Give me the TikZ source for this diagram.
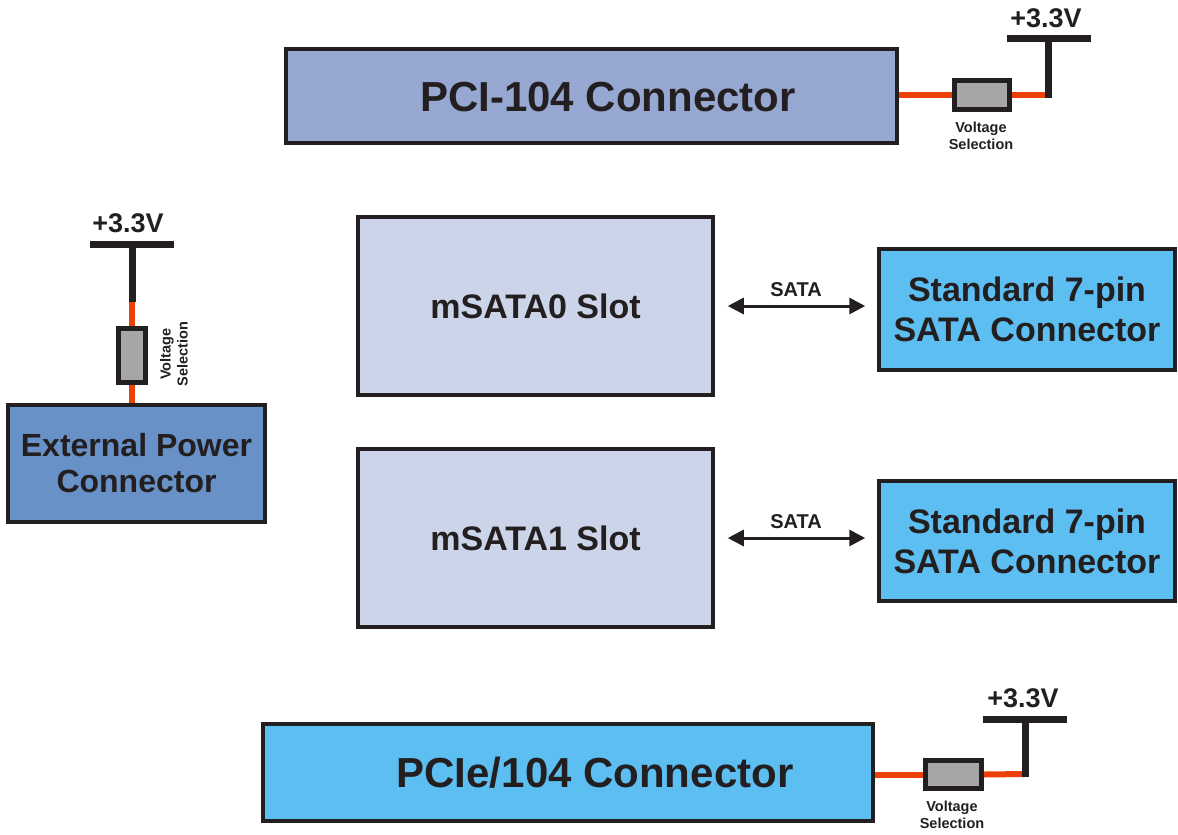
\documentclass[tikz,border=0pt]{standalone}
\usepackage{fontspec}
\setmainfont{Liberation Sans}
\usetikzlibrary{arrows.meta}
\definecolor{ink}{RGB}{35,31,32}
\definecolor{pcicol}{RGB}{150,168,210}
\definecolor{slotcol}{RGB}{203,212,232}
\definecolor{conncol}{RGB}{92,190,241}
\definecolor{extcol}{RGB}{104,145,200}
\definecolor{wirered}{RGB}{236,64,8}
\definecolor{resgray}{RGB}{166,166,166}
\tikzset{
  blk/.style={draw=ink, line width=3.5pt, inner sep=0pt, text=ink, font=\bfseries, align=center},
  res/.style={draw=ink, fill=resgray, line width=5pt, inner sep=0pt},
  redwire/.style={draw=wirered, line width=6pt},
  blackwire/.style={draw=ink, line width=7pt},
  vtxt/.style={text=ink, font=\fontsize{27}{30}\selectfont\bfseries, inner sep=0pt},
  seltxt/.style={text=ink, font=\fontsize{14.5}{17}\selectfont\bfseries, align=center, inner sep=0pt},
  sataarrow/.style={draw=ink, line width=3pt, {Triangle[length=16pt,width=16pt]}-{Triangle[length=16pt,width=16pt]}, shorten <=13pt, shorten >=12pt},
  satatxt/.style={text=ink, font=\fontsize{20}{24}\selectfont\bfseries, inner sep=0pt}
}
\begin{document}
\begin{tikzpicture}[x=1pt,y=-1pt]
\useasboundingbox (0,0) rectangle (1178,835);
% boxes
\node[blk, fill=pcicol, minimum width=611pt, minimum height=94pt] (pci) at (591.5,96) {};
\node[text=ink, font=\fontsize{42}{50}\selectfont\bfseries, inner sep=0pt] (pcitext) at (608,97) {PCI-104 Connector};
\node[blk, fill=slotcol, minimum width=355pt, minimum height=178pt, font=\fontsize{34}{40}\selectfont\bfseries] (ms0) at (535.5,306) {mSATA0 Slot};
\node[blk, fill=slotcol, minimum width=355pt, minimum height=178pt, font=\fontsize{34}{40}\selectfont\bfseries] (ms1) at (535.5,538) {mSATA1 Slot};
\node[blk, fill=conncol, minimum width=296pt, minimum height=121pt, font=\fontsize{34}{40}\selectfont\bfseries] (sc0) at (1027,309.5) {Standard 7-pin\\SATA Connector};
\node[blk, fill=conncol, minimum width=296pt, minimum height=120pt, font=\fontsize{34}{40}\selectfont\bfseries] (sc1) at (1027,541) {Standard 7-pin\\SATA Connector};
\node[blk, fill=extcol, minimum width=257pt, minimum height=117pt, font=\fontsize{32}{36}\selectfont\bfseries] (ext) at (136.5,463.5) {External Power\\Connector};
\node[blk, fill=conncol, minimum width=610pt, minimum height=97pt] (pcie) at (568,772.5) {};
\node[text=ink, font=\fontsize{42}{50}\selectfont\bfseries, inner sep=0pt] (pcietext) at (595,773) {PCIe/104 Connector};
% SATA arrows
\draw[sataarrow] (ms0.east) -- (ms0.east -| sc0.west) node[midway, above=8pt, satatxt] (sata0) {SATA};
\draw[sataarrow] (ms1.east) -- (ms1.east -| sc1.west) node[midway, above=8pt, satatxt] (sata1) {SATA};
% top voltage selection
\node[res, minimum width=55pt, minimum height=29pt] (r1) at (982,95) {};
\coordinate (t1) at (1048.5,95);
\coordinate (t1b) at (1048.5,98);
\coordinate (t1top) at (1048.5,38.5);
\coordinate (bar1l) at (1007,38.5);
\coordinate (bar1r) at (1091,38.5);
\draw[redwire] (pci.east |- r1.west) -- (r1.west);
\draw[redwire] (r1.east) -- (t1);
\draw[blackwire] (t1top) -- (t1b);
\draw[blackwire] (bar1l) -- (bar1r);
\node[vtxt] (v1) at (1046,18) {+3.3V};
\node[seltxt] (s1) at (981,136) {Voltage\\Selection};
% left voltage selection
\node[res, minimum width=27pt, minimum height=54pt] (r2) at (132,355.5) {};
\coordinate (t2) at (132,302);
\coordinate (t2top) at (132,244);
\coordinate (bar2l) at (90,244);
\coordinate (bar2r) at (174,244);
\draw[redwire] (r2.south) -- (r2.south |- ext.north);
\draw[redwire] (r2.north) -- (t2);
\draw[blackwire] (t2top) -- (t2);
\draw[blackwire] (bar2l) -- (bar2r);
\node[vtxt] (v2) at (128,223) {+3.3V};
\node[seltxt, rotate=90] (s2) at (174,354) {Voltage\\Selection};
% bottom voltage selection
\node[res, minimum width=56pt, minimum height=28pt] (r3) at (953.5,774.5) {};
\coordinate (t3) at (1025,774);
\coordinate (t3b) at (1025,777);
\coordinate (t3top) at (1025,719);
\coordinate (bar3l) at (983,719);
\coordinate (bar3r) at (1067,719);
\draw[redwire] (pcie.east |- r3.west) -- (r3.west);
\draw[redwire] (r3.east) -- (t3);
\draw[blackwire] (t3top) -- (t3b);
\draw[blackwire] (bar3l) -- (bar3r);
\node[vtxt] (v3) at (1023,698) {+3.3V};
\node[seltxt] (s3) at (952,815) {Voltage\\Selection};
\end{tikzpicture}
\end{document}
